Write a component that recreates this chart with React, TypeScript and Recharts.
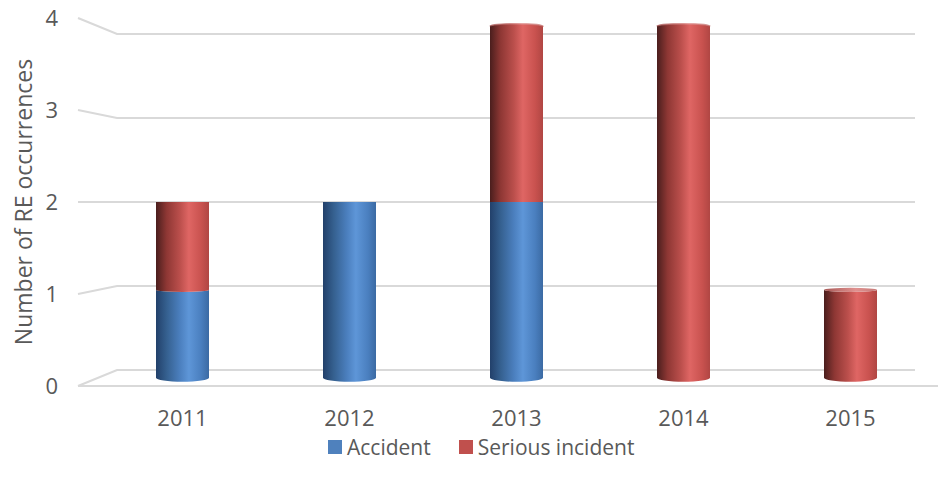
import { BarChart, Bar, XAxis, YAxis, CartesianGrid, Legend } from "recharts";

const YEARS = ["2011", "2012", "2013", "2014", "2015"];
const ACCIDENTS = [1, 2, 2, 0, 0];
const SERIOUS_INCIDENTS = [1, 0, 2, 4, 1];
const Y_TICKS = [0, 1, 2, 3, 4];

const data = YEARS.map((year, i) => ({
  year,
  accident: ACCIDENTS[i],
  serious: SERIOUS_INCIDENTS[i],
}));

const W = 940;
const H = 484;
const PLOT_TOP = 18;
const PLOT_BOTTOM = 386;
const MID = (PLOT_TOP + PLOT_BOTTOM) / 2; // eye level
// depth scaling: front edge -> bar plane -> back wall
const BAR_DEPTH = 0.955;
const WALL_DEPTH = 84 / 92;
// ellipse flattening per px away from eye level
const TILT_BELOW = 0.023;
const TILT_ABOVE = 0.015;
const FRONT_LEFT = 78;
const WALL_LEFT = 117;
const WALL_RIGHT = 915;
const FLOOR_RIGHT = 938;
const FONT = "'Open Sans', sans-serif";
const TEXT = "#595959";
const GRID = "#d9d9d9";

const toPlane = (y: number, k: number) => MID + (y - MID) * k;
const arcRy = (y: number) => Math.abs(y - MID) * (y > MID ? TILT_BELOW : TILT_ABOVE);

function WallLine(props: any) {
  const y = props.y1;
  const yb = toPlane(y, WALL_DEPTH);
  const isFloor = Math.abs(y - PLOT_BOTTOM) < 1;
  return (
    <g>
      <path
        d={`M${FRONT_LEFT},${y} L${WALL_LEFT},${yb} L${WALL_RIGHT},${yb}`}
        fill="none"
        stroke={GRID}
        strokeWidth={2}
      />
      {isFloor && (
        <line x1={FRONT_LEFT} y1={y} x2={FLOOR_RIGHT} y2={y} stroke={GRID} strokeWidth={2} />
      )}
    </g>
  );
}

function Cylinder(props: any) {
  const { x, y, width, height, payload, dataKey } = props;
  if (!height || height <= 0) return null;
  const isAccident = dataKey === "accident";
  const isTop = isAccident ? payload.serious === 0 : true;
  const top = toPlane(y, BAR_DEPTH);
  const bottom = toPlane(y + height, BAR_DEPTH);
  const rx = width / 2;
  const ryTop = arcRy(top);
  const ryBot = arcRy(bottom);
  const topDown = top > MID;
  const botDown = bottom > MID;
  const body = isAccident ? "url(#cylBlue)" : "url(#cylRed)";
  const cap = isAccident ? "url(#capBlue)" : "url(#capRed)";
  const topArc = `M${x},${top} A${rx},${ryTop} 0 0 ${topDown ? 0 : 1} ${x + width},${top}`;
  const d = [
    topArc,
    `L${x + width},${bottom}`,
    `A${rx},${ryBot} 0 0 ${botDown ? 1 : 0} ${x},${bottom}`,
    "Z",
  ].join(" ");
  return (
    <g>
      <path d={d} fill={body} />
      {isTop && topDown && ryTop > 0.5 && (
        <ellipse cx={x + rx} cy={top} rx={rx} ry={ryTop} fill={cap} />
      )}
      {isTop && !topDown && (
        <path d={topArc} fill="none" stroke={cap} strokeWidth={1.5} opacity={0.8} />
      )}
    </g>
  );
}

function YTick(props: any) {
  const { x, y, payload } = props;
  return (
    <text x={x} y={y} dy="0.38em" textAnchor="end" fill={TEXT} fontSize={22} fontFamily={FONT}>
      {payload.value}
    </text>
  );
}

function YTitle(props: any) {
  const { viewBox } = props;
  const cx = viewBox.x + 23;
  const cy = viewBox.y + viewBox.height / 2;
  return (
    <text
      x={cx}
      y={cy}
      transform={`rotate(-90 ${cx} ${cy})`}
      textAnchor="middle"
      dominantBaseline="central"
      fill={TEXT}
      fontSize={23}
      fontFamily={FONT}
    >
      Number of RE occurrences
    </text>
  );
}

function LegendBox() {
  const items = [
    { label: "Accident", color: "#4f81bd" },
    { label: "Serious incident", color: "#c0504d" },
  ];
  return (
    <div style={{ display: "flex", alignItems: "center", height: 30, fontFamily: FONT, fontSize: 21, color: TEXT }}>
      {items.map((it, i) => (
        <div key={it.label} style={{ display: "flex", alignItems: "center", marginLeft: i ? 28 : 0 }}>
          <span style={{ width: 14, height: 14, background: it.color, marginRight: 5, display: "inline-block" }} />
          <span>{it.label}</span>
        </div>
      ))}
    </div>
  );
}

export default function App() {
  return (
    <div style={{ position: "absolute", left: 0, top: 0, width: W, height: H, background: "#fff" }}>
      <BarChart
        width={W}
        height={H}
        data={data}
        margin={{ top: PLOT_TOP, right: 6, bottom: 0, left: 0 }}
        barSize={53}
      >
        <defs>
          <linearGradient id="cylRed" x1="0" y1="0" x2="1" y2="0">
            <stop offset="0" stopColor="#4a1e1d" />
            <stop offset="0.2" stopColor="#8e3734" />
            <stop offset="0.45" stopColor="#bb4f4c" />
            <stop offset="0.62" stopColor="#df6664" />
            <stop offset="0.85" stopColor="#c9524f" />
            <stop offset="1" stopColor="#b04643" />
          </linearGradient>
          <linearGradient id="cylBlue" x1="0" y1="0" x2="1" y2="0">
            <stop offset="0" stopColor="#22406a" />
            <stop offset="0.2" stopColor="#35608f" />
            <stop offset="0.45" stopColor="#4b7fbe" />
            <stop offset="0.62" stopColor="#5e96d8" />
            <stop offset="0.85" stopColor="#4a7fbf" />
            <stop offset="1" stopColor="#3b6aa3" />
          </linearGradient>
          <linearGradient id="capRed" x1="0" y1="0" x2="1" y2="0">
            <stop offset="0" stopColor="#a95a58" />
            <stop offset="0.6" stopColor="#e0918f" />
            <stop offset="1" stopColor="#c67b79" />
          </linearGradient>
          <linearGradient id="capBlue" x1="0" y1="0" x2="1" y2="0">
            <stop offset="0" stopColor="#5b7aa3" />
            <stop offset="0.6" stopColor="#8fb0da" />
            <stop offset="1" stopColor="#7695c0" />
          </linearGradient>
        </defs>
        <CartesianGrid vertical={false} horizontal={(p: any) => <WallLine key={p.key} {...p} />} />
        <XAxis
          dataKey="year"
          axisLine={false}
          tickLine={false}
          tickMargin={18}
          height={68}
          tick={{ fill: TEXT, fontSize: 22, fontFamily: FONT }}
        />
        <YAxis
          width={99}
          domain={[0, 4]}
          ticks={Y_TICKS}
          axisLine={false}
          tickLine={false}
          tickMargin={35}
          tick={<YTick />}
          label={{ content: (p: any) => <YTitle {...p} /> }}
        />
        <Legend
          content={<LegendBox />}
          wrapperStyle={{ position: "absolute", left: 328, top: 432, width: "auto", height: 30 }}
        />
        <Bar dataKey="accident" name="Accident" stackId="a" fill="#4f81bd" shape={<Cylinder />} isAnimationActive={false} />
        <Bar dataKey="serious" name="Serious incident" stackId="a" fill="#c0504d" shape={<Cylinder />} isAnimationActive={false} />
      </BarChart>
    </div>
  );
}
